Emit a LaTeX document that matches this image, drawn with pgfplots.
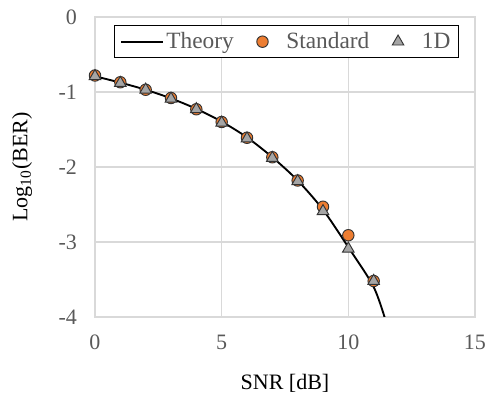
\documentclass[border=0pt]{standalone}
\usepackage{pgfplots}
\pgfplotsset{compat=1.18}
\usepackage{fontspec}
\setmainfont{Liberation Serif}
\definecolor{tickgray}{HTML}{595959}
\definecolor{gridgray}{HTML}{D9D9D9}
\definecolor{orangeS}{HTML}{ED7D31}
\definecolor{grayT}{HTML}{A5A5A5}
\pgfplotsset{
  longline/.style={legend image code/.code={\draw[##1] (0cm,0cm) -- (1.1cm,0cm);}},
  markimg/.style={legend image code/.code={\path[draw=none,fill=none] (0cm,0cm) (0.86cm,0cm); \draw[##1] plot coordinates {(0.3cm,0cm)};}},
}
\begin{document}
\begin{tikzpicture}
\useasboundingbox (-71.25pt,-59.25pt) rectangle (294pt,237.75pt);
\begin{axis}[
  scale only axis,
  width=285pt, height=225pt,
  xmin=0, xmax=15, ymin=-4, ymax=0,
  xtick={0,5,10,15}, ytick={-4,-3,-2,-1,0},
  grid=major,
  major grid style={gridgray, line width=0.9pt},
  axis line style={gridgray, line width=0.9pt},
  tick style={draw=none},
  /pgf/number format/assume math mode=true,
  ticklabel style={font=\fontsize{16.5}{18}\selectfont, text=tickgray},
  xticklabel style={yshift=-10pt},
  yticklabel style={xshift=-10pt},
  xlabel={SNR [dB]},
  ylabel={Log\textsubscript{10}(BER)},
  label style={font=\fontsize{16.5}{18}\selectfont},
  x label style={at={(axis description cs:0.5,-0.22)}, anchor=center},
  y label style={at={(axis description cs:-0.192,0.5)}, anchor=center},
  clip=true,
  legend columns=3,
  legend style={at={(rel axis cs:0.958,0.972)}, anchor=north east,
    draw=black, line width=0.8pt, font=\fontsize{17.5}{20}\selectfont, text=tickgray,
    inner xsep=4pt, inner ysep=3pt,
    /tikz/every even column/.append style={column sep=11pt}},
]
\addplot[black, line width=1.4pt, smooth, tension=0.5, longline]
  coordinates {(0,-0.79) (1,-0.875) (2,-0.97) (3,-1.085) (4,-1.225) (5,-1.395) (6,-1.605) (7,-1.87) (8,-2.18) (9,-2.57) (10,-3.07) (11,-3.6) (11.5,-4.08)};
\addlegendentry{Theory}
\addplot[only marks, mark=*, mark size=4.3pt, mark options={fill=orangeS, draw=black!80, line width=0.7pt}, markimg]
  coordinates {(0,-0.78) (1,-0.87) (2,-0.97) (3,-1.08) (4,-1.23) (5,-1.40) (6,-1.61) (7,-1.87) (8,-2.18) (9,-2.53) (10,-2.91) (11,-3.52)};
\addlegendentry{Standard}
\addplot[only marks, mark=triangle*, mark size=5pt, mark options={fill=grayT, draw=black!80, line width=0.7pt}, markimg]
  coordinates {(0,-0.79) (1,-0.88) (2,-0.97) (3,-1.09) (4,-1.23) (5,-1.41) (6,-1.62) (7,-1.88) (8,-2.19) (9,-2.59) (10,-3.09) (11,-3.52)};
\addlegendentry{1D}
\end{axis}
\end{tikzpicture}
\end{document}
